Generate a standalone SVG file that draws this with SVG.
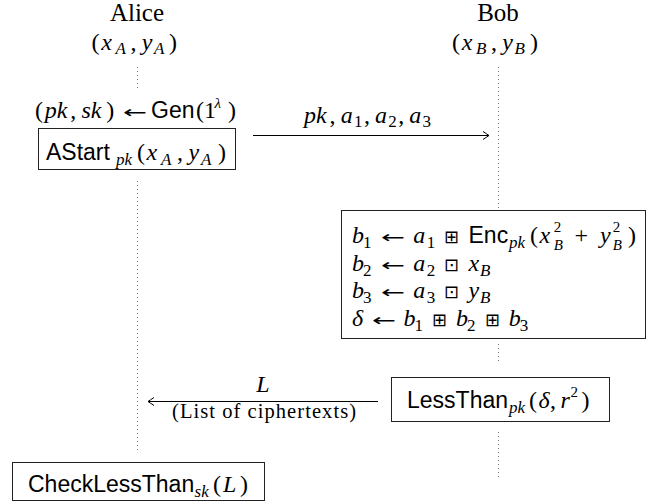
<svg xmlns="http://www.w3.org/2000/svg" width="647" height="502" viewBox="0 0 647 502">
<style>
.r{font-family:"Liberation Serif","DejaVu Serif",serif;font-size:24px;fill:#000}
.i{font-style:italic}
.sb{font-size:17px}
.ss{font-size:15px}
.sf{font-family:"Liberation Sans","DejaVu Sans",sans-serif;font-size:23px;font-style:normal}
.ar{font-family:"DejaVu Sans",sans-serif;font-size:17px;fill:#000}
.op{font-family:"DejaVu Sans",sans-serif;font-size:18px;font-style:normal}
.box{fill:#fff;stroke:#222;stroke-width:1}
.life{stroke:#777;stroke-width:1;stroke-dasharray:1 3;fill:none}
.msg{stroke:#000;stroke-width:1;fill:none}
</style>
<defs>
<marker id="arr" markerUnits="userSpaceOnUse" markerWidth="12" markerHeight="12" viewBox="-8 -6 10 12" refX="0" refY="0" orient="auto">
<path d="M -6 -4 Q -1.5 -1 0 0 Q -1.5 1 -6 4" fill="none" stroke="#000" stroke-width="1"/>
</marker>
</defs>
<rect width="647" height="502" fill="#fff"/>

<g id="connectors">
<line class="life" x1="137.5" y1="67" x2="137.5" y2="90"/>
<line class="life" x1="137.5" y1="181" x2="137.5" y2="453"/>
<line class="life" x1="498.5" y1="67" x2="498.5" y2="209"/>
<line class="life" x1="498.5" y1="344" x2="498.5" y2="363"/>
<line class="life" x1="498.5" y1="432" x2="498.5" y2="478"/>
<line class="msg" x1="253" y1="135.5" x2="489" y2="135.5" marker-end="url(#arr)"/>
<text class="r i" y="123"><tspan x="304">pk</tspan><tspan x="329.6" font-style="normal">,</tspan><tspan x="340.7">a</tspan><tspan x="353.9" y="127" class="sb" font-style="normal">1</tspan><tspan x="363.9" y="123" font-style="normal">,</tspan><tspan x="375">a</tspan><tspan x="388.2" y="127" class="sb" font-style="normal">2</tspan><tspan x="398.2" y="123" font-style="normal">,</tspan><tspan x="409.3">a</tspan><tspan x="422.5" y="127" class="sb" font-style="normal">3</tspan></text>
<line class="msg" x1="378" y1="401.5" x2="148" y2="401.5" marker-end="url(#arr)"/>
<text class="r i" x="263" y="392" text-anchor="middle">L</text>
<text class="r" x="172" y="418" textLength="184" lengthAdjust="spacing" style="font-size:20.5px">(List of ciphertexts)</text>
</g>

<g id="alice">
<text class="r" x="137" y="21" text-anchor="middle" style="font-size:25px">Alice</text>
<text class="r" y="50"><tspan x="91.5">(</tspan><tspan x="101.2" class="i">x</tspan><tspan x="115.5" y="54" class="i sb">A</tspan><tspan x="130.5" y="50">,</tspan><tspan x="141.7" class="i">y</tspan><tspan x="154" y="54" class="i sb">A</tspan><tspan x="169" y="50">)</tspan></text>
</g>

<g id="bob">
<text class="r" x="498" y="21" text-anchor="middle" style="font-size:25px">Bob</text>
<text class="r" y="50"><tspan x="452">(</tspan><tspan x="461.7" class="i">x</tspan><tspan x="476" y="54" class="i sb">B</tspan><tspan x="491" y="50">,</tspan><tspan x="502.2" class="i">y</tspan><tspan x="514.5" y="54" class="i sb">B</tspan><tspan x="530" y="50">)</tspan></text>
</g>

<g id="alice-start">
<text class="r" y="118"><tspan x="35">(</tspan><tspan x="44.7" class="i">pk</tspan><tspan x="70.3">,</tspan><tspan x="81.5" class="i">sk</tspan><tspan x="106.2">)</tspan><tspan x="151" class="sf">Gen</tspan><tspan x="196">(1</tspan><tspan x="214.5" y="108" class="i ss">λ</tspan><tspan x="228" y="118">)</tspan></text>
<text class="ar" x="123" y="118" textLength="24" lengthAdjust="spacingAndGlyphs">←</text>
<rect class="box" x="38.5" y="128.5" width="197" height="41"/>
<text class="r" y="160"><tspan x="46" class="sf">AStart</tspan><tspan x="116" y="165" class="i sb">pk</tspan><tspan x="137" y="160">(</tspan><tspan x="146.4" class="i">x</tspan><tspan x="161" y="165" class="i sb">A</tspan><tspan x="176.9" y="160">,</tspan><tspan x="188.4" class="i">y</tspan><tspan x="201" y="165" class="i sb">A</tspan><tspan x="218" y="160">)</tspan></text>
</g>

<g id="bob-compute">
<rect class="box" x="341.5" y="210.5" width="304" height="128"/>
<text class="r" y="243"><tspan x="352" class="i">b</tspan><tspan x="363" y="248" class="sb">1</tspan><tspan x="413.2" y="243" class="i">a</tspan><tspan x="426.8" y="248" class="sb">1</tspan><tspan x="444" y="243" class="op">⊞</tspan><tspan x="468.5" class="sf">Enc</tspan><tspan x="509" y="248" class="i sb">pk</tspan><tspan x="530" y="243">(</tspan><tspan x="539.6" class="i">x</tspan><tspan x="553.8" y="232" class="ss">2</tspan><tspan x="553.8" y="250" class="i ss">B</tspan><tspan x="574.4" y="243">+</tspan><tspan x="600.1" class="i">y</tspan><tspan x="612.7" y="232" class="ss">2</tspan><tspan x="612.7" y="250" class="i ss">B</tspan><tspan x="628" y="243">)</tspan></text>
<text class="ar" x="381" y="243" textLength="24" lengthAdjust="spacingAndGlyphs">←</text>
<text class="r" y="271"><tspan x="352" class="i">b</tspan><tspan x="363" y="276" class="sb">2</tspan><tspan x="413.2" y="271" class="i">a</tspan><tspan x="426.8" y="276" class="sb">2</tspan><tspan x="444" y="271" class="op">⊡</tspan><tspan x="468.5" class="i">x</tspan><tspan x="480" y="276" class="i sb">B</tspan></text>
<text class="ar" x="381" y="271" textLength="24" lengthAdjust="spacingAndGlyphs">←</text>
<text class="r" y="298"><tspan x="352" class="i">b</tspan><tspan x="363" y="303" class="sb">3</tspan><tspan x="413.2" y="298" class="i">a</tspan><tspan x="426.8" y="303" class="sb">3</tspan><tspan x="444" y="298" class="op">⊡</tspan><tspan x="468.5" class="i">y</tspan><tspan x="480" y="303" class="i sb">B</tspan></text>
<text class="ar" x="381" y="298" textLength="24" lengthAdjust="spacingAndGlyphs">←</text>
<text class="r" y="326"><tspan x="352" class="i">δ</tspan><tspan x="403.4" class="i">b</tspan><tspan x="414.4" y="331" class="sb">1</tspan><tspan x="432" y="326" class="op">⊞</tspan><tspan x="456.1" class="i">b</tspan><tspan x="467.1" y="331" class="sb">2</tspan><tspan x="485" y="326" class="op">⊞</tspan><tspan x="508.7" class="i">b</tspan><tspan x="519.7" y="331" class="sb">3</tspan></text>
<text class="ar" x="372" y="326" textLength="24" lengthAdjust="spacingAndGlyphs">←</text>
</g>

<g id="bob-lessthan">
<rect class="box" x="391.5" y="377.5" width="218" height="44"/>
<text class="r" y="408"><tspan x="407" class="sf">LessThan</tspan><tspan x="509" y="413" class="i sb">pk</tspan><tspan x="529" y="408">(</tspan><tspan x="538.5" class="i">δ</tspan><tspan x="550">,</tspan><tspan x="560.5" class="i">r</tspan><tspan x="570.5" y="397" class="ss">2</tspan><tspan x="581.5" y="408">)</tspan></text>
</g>

<g id="alice-check">
<rect class="box" x="12.5" y="462.5" width="252" height="38"/>
<text class="r" y="492"><tspan x="28" class="sf">CheckLessThan</tspan><tspan x="194.6" y="497" class="i sb">sk</tspan><tspan x="213" y="492">(</tspan><tspan x="223" class="i">L</tspan><tspan x="240">)</tspan></text>
</g>
</svg>
